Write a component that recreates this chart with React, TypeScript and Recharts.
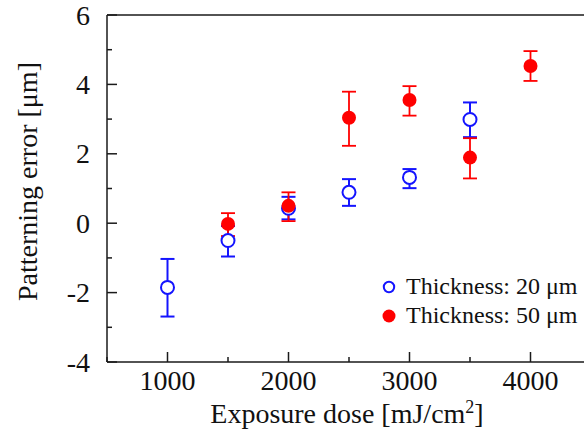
import React from 'react';
import { ScatterChart, Scatter, XAxis, YAxis, ErrorBar, ReferenceLine, Legend } from 'recharts';

const FONT = '"Liberation Serif", "Times New Roman", Times, serif';
const AXIS = '#1a1a1a';
const BLUE = '#1414ff';
const RED = '#ff0000';

const dose20 = [1000, 1500, 2000, 2500, 3000, 3500];
const error20 = [-1.85, -0.5, 0.43, 0.89, 1.32, 2.99];
const error20Low = [0.84, 0.46, 0.32, 0.39, 0.31, 0.51];
const error20High = [0.82, 0.42, 0.33, 0.38, 0.24, 0.49];

const dose50 = [1500, 2000, 2500, 3000, 3500, 4000];
const error50 = [-0.02, 0.5, 3.04, 3.55, 1.89, 4.53];
const error50Low = [0.35, 0.44, 0.81, 0.45, 0.6, 0.43];
const error50High = [0.31, 0.39, 0.75, 0.4, 0.56, 0.43];

const xTicks = [500, 1000, 1500, 2000, 2500, 3000, 3500, 4000, 4500];
const xLabeled = [1000, 2000, 3000, 4000];
const yTicks = [-4, -3, -2, -1, 0, 1, 2, 3, 4, 5, 6];
const yLabeled = [-4, -2, 0, 2, 4, 6];

const series20 = dose20.map((d, i) => ({ x: d, y: error20[i], err: [error20Low[i], error20High[i]] }));
const series50 = dose50.map((d, i) => ({ x: d, y: error50[i], err: [error50Low[i], error50High[i]] }));

const XTick = (props: any) => {
  const { x, y, payload } = props;
  const v = payload.value;
  const major = xLabeled.includes(v);
  return (
    <g>
      <line x1={x} x2={x} y1={y} y2={y - (major ? 10 : 5)} stroke={AXIS} strokeWidth={1.5} />
      {major && (
        <text x={x} y={y + 28} textAnchor="middle" fontSize={28} fontFamily={FONT} fill="#111">
          {String(v)}
        </text>
      )}
    </g>
  );
};

const YTick = (props: any) => {
  const { x, y, payload } = props;
  const v = payload.value;
  const major = yLabeled.includes(v);
  return (
    <g>
      <line x1={x} x2={x + (major ? 10 : 5)} y1={y} y2={y} stroke={AXIS} strokeWidth={1.5} />
      {major && (
        <text x={x - 17} y={y + 9.5} textAnchor="end" fontSize={28} fontFamily={FONT} fill="#111">
          {String(v)}
        </text>
      )}
    </g>
  );
};

const XLabel = (props: any) => {
  const vb = props.viewBox || { x: 107, y: 362, width: 484, height: 30 };
  const cx = vb.x + vb.width / 2 - 2;
  const by = vb.y + 61;
  return (
    <text x={cx} y={by} textAnchor="middle" fontSize={28} fontFamily={FONT} fill="#111">
      <tspan>Exposure dose [mJ/cm</tspan>
      <tspan dy={-10} fontSize={18}>2</tspan>
      <tspan dy={10}>]</tspan>
    </text>
  );
};

const YLabel = (props: any) => {
  const vb = props.viewBox || { x: 47, y: 15, width: 60, height: 347 };
  const cx = vb.x + vb.width - 80;
  const cy = vb.y + vb.height / 2 - 7;
  return (
    <text
      x={cx}
      y={cy}
      transform={`rotate(-90, ${cx}, ${cy})`}
      textAnchor="middle"
      dominantBaseline="central"
      fontSize={28}
      fontFamily={FONT}
      fill="#111"
    >
      Patterning error [μm]
    </text>
  );
};

const LegendContent = (props: any) => {
  const items = props.payload || [];
  return (
    <div style={{ fontFamily: FONT, fontSize: 24, color: '#111', lineHeight: '29px' }}>
      {items.map((it: any, i: number) => {
        const open = String(it.value).includes('20');
        return (
          <div key={i} style={{ display: 'flex', alignItems: 'center', whiteSpace: 'nowrap' }}>
            <svg width={14} height={14} style={{ marginRight: 10 }}>
              {open ? (
                <circle cx={7} cy={7} r={5.2} fill="#fff" stroke={BLUE} strokeWidth={2} />
              ) : (
                <circle cx={7} cy={7} r={6.5} fill={RED} />
              )}
            </svg>
            <span>{it.value}</span>
          </div>
        );
      })}
    </div>
  );
};

export default function App() {
  return (
    <div style={{ position: 'absolute', left: 0, top: 0, width: 584, height: 434, overflow: 'hidden', background: '#fff' }}>
      <ScatterChart width={600} height={434} margin={{ top: 15, right: 9, bottom: 42, left: 47 }}>
        <XAxis
          type="number"
          dataKey="x"
          domain={[500, 4500]}
          ticks={xTicks}
          interval={0}
          height={30}
          tickSize={0}
          tickMargin={0}
          tickLine={false}
          tick={<XTick />}
          axisLine={{ stroke: AXIS, strokeWidth: 1.5 }}
          label={{ content: XLabel }}
        />
        <YAxis
          type="number"
          dataKey="y"
          domain={[-4, 6]}
          ticks={yTicks}
          interval={0}
          width={60}
          tickSize={0}
          tickMargin={0}
          tickLine={false}
          tick={<YTick />}
          axisLine={{ stroke: AXIS, strokeWidth: 1.5 }}
          label={{ content: YLabel }}
        />
        <ReferenceLine y={6} stroke={AXIS} strokeWidth={1.5} />
        <Legend
          layout="horizontal"
          verticalAlign="middle"
          align="center"
          content={<LegendContent />}
          wrapperStyle={{ position: 'absolute', left: 382, top: 272, width: 200 }}
        />
        <Scatter
          name="Thickness: 20 μm"
          data={series20}
          isAnimationActive={false}
          fill={BLUE}
          shape={(p: any) => <circle cx={p.cx} cy={p.cy} r={6.5} fill="#fff" stroke={BLUE} strokeWidth={2} />}
        >
          <ErrorBar dataKey="err" direction="y" width={7} stroke={BLUE} strokeWidth={2} isAnimationActive={false} />
        </Scatter>
        <Scatter
          name="Thickness: 50 μm"
          data={series50}
          isAnimationActive={false}
          fill={RED}
          shape={(p: any) => <circle cx={p.cx} cy={p.cy} r={7} fill={RED} />}
        >
          <ErrorBar dataKey="err" direction="y" width={7} stroke={RED} strokeWidth={1.8} isAnimationActive={false} />
        </Scatter>
      </ScatterChart>
    </div>
  );
}
